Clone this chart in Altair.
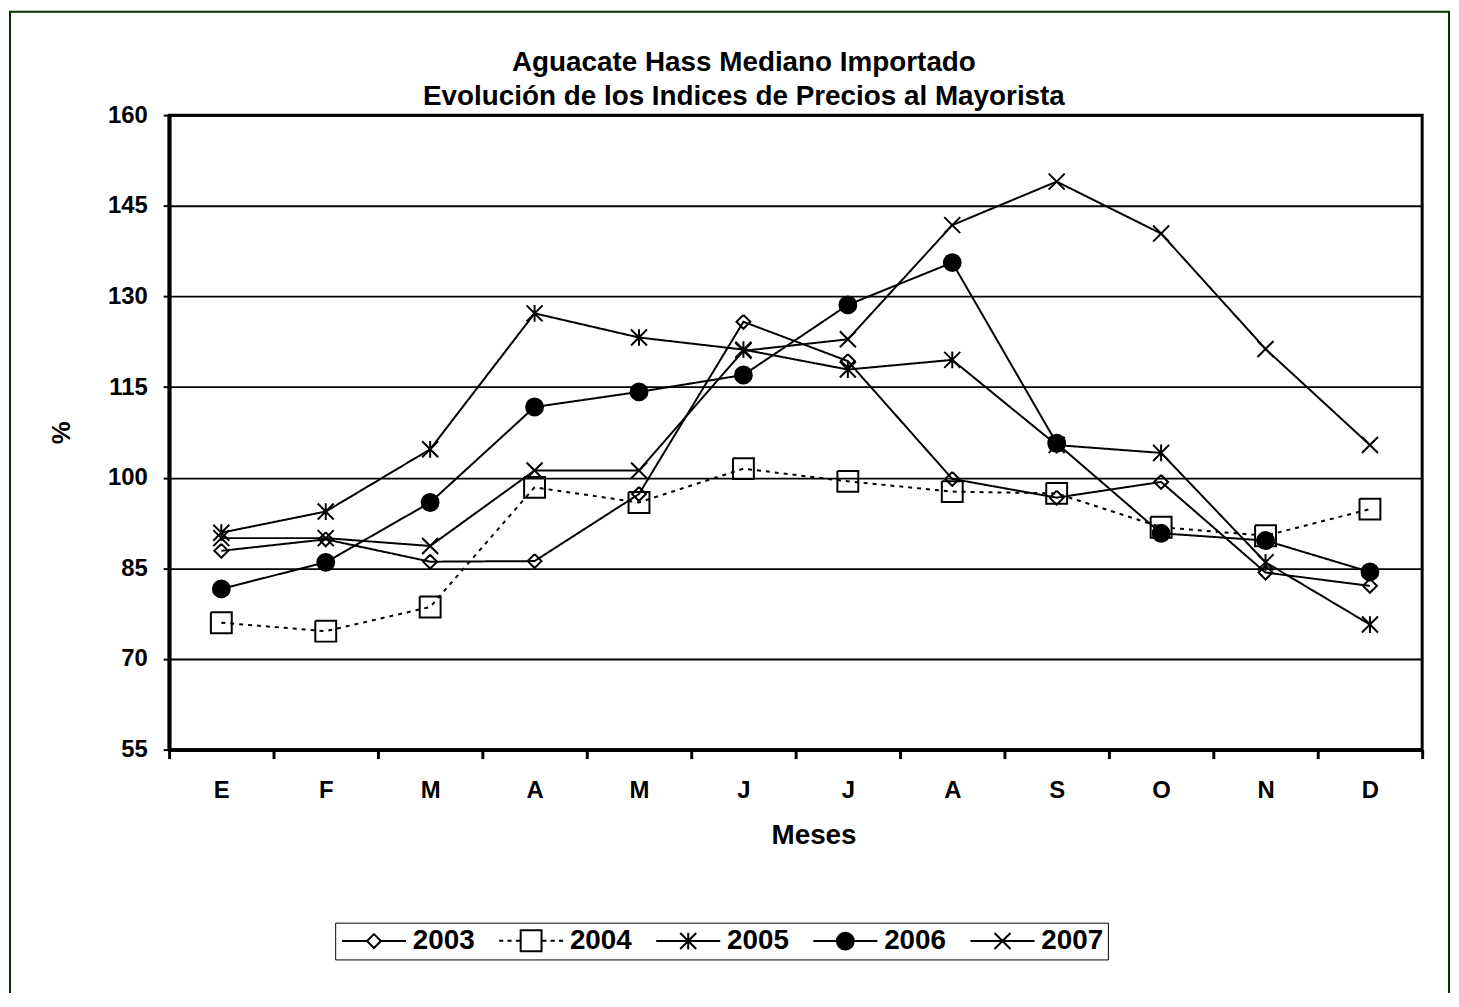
import json
import altair as alt
import pandas as pd

# ---------------- data ----------------
meses = ["E", "F", "M", "A", "M", "J", "J", "A", "S", "O", "N", "D"]
anios = ["2003", "2004", "2005", "2006", "2007"]
v2003 = [87.9, 89.8, 86.1, 86.2, 97.3, 125.8, 119.3, 99.8, 96.7, 99.3, 84.3, 82.1]
v2004 = [76.0, 74.6, 78.6, 98.4, 95.9, 101.5, 99.4, 97.7, 97.4, 91.8, 90.4, 94.8]
v2005 = [90.9, 94.4, 104.7, 127.2, 123.2, 121.2, 117.9, 119.5, 105.4, 104.1, 86.0, 75.7]
v2006 = [81.6, 86.0, 95.9, 111.7, 114.2, 117.0, 128.6, 135.6, 105.7, 90.8, 89.6, 84.4]
v2007 = [90.0, 90.0, 88.7, 101.2, 101.2, 121.0, 122.9, 141.8, 149.0, 140.4, 121.3, 105.4]
y_ticks = [55, 70, 85, 100, 115, 130, 145, 160]
titulo = ["Aguacate Hass Mediano Importado",
          "Evolución de los Indices de Precios al Mayorista"]
x_title = "Meses"
y_title = "%"

series = {"2003": v2003, "2004": v2004, "2005": v2005, "2006": v2006, "2007": v2007}
rows = []
for a in anios:
    for i, v in enumerate(series[a]):
        rows.append({"idx": i, "anio": a, "valor": v})
df = pd.DataFrame(rows)

# ---------------- styles ----------------
F = "Liberation Sans"
W, H = 1260, 638
SYM = 196  # symbol size -> 1 path unit = 7 px

# plot markers (open shapes retraced so that a black fill has no area)
P_DIAMOND = "M0,-1L1,0L0,1L-1,0L0,-1L-1,0L0,1L1,0Z"
P_SQUARE = "M-1.5,-1.5L1.5,-1.5L1.5,1.5L-1.5,1.5L-1.5,-1.5L-1.5,1.5L1.5,1.5L1.5,-1.5Z"
P_AST = "M-1.15,-1.15L1.15,1.15M-1.15,1.15L1.15,-1.15M0,-1.2L0,1.2"
P_CIRC = "M1.21,0A1.21,1.21,0,1,1,-1.21,0A1.21,1.21,0,1,1,1.21,0Z"
P_X = "M-1.15,-1.15L1.15,1.15M-1.15,1.15L1.15,-1.15"
marker_shapes = [P_DIAMOND, P_SQUARE, P_AST, P_CIRC, P_X]
dashes = [[1, 0], [4, 5], [1, 0], [1, 0], [1, 0]]

# legend symbols: line sample + marker, stroke only
leg_2003 = "M-4.6,0H-1M1,0H4.6M0,-1L1,0L0,1L-1,0Z"
leg_2004 = ("M-4.6,0H-4.0M-3.4,0H-2.8M-2.2,0H-1.6"
            "M1.6,0H2.2M2.8,0H3.4M4.0,0H4.6"
            "M-1.5,-1.5L1.5,-1.5L1.5,1.5L-1.5,1.5Z")
leg_2005 = "M-4.6,0H4.6M-1.15,-1.15L1.15,1.15M-1.15,1.15L1.15,-1.15M0,-1.2L0,1.2"
leg_2006 = ("M-4.6,0H4.6"
            "M1.21,0A1.21,1.21,0,1,1,-1.21,0A1.21,1.21,0,1,1,1.21,0"
            "M1.0,0A1.0,1.0,0,1,1,-1.0,0A1.0,1.0,0,1,1,1.0,0"
            "M0.8,0A0.8,0.8,0,1,1,-0.8,0A0.8,0.8,0,1,1,0.8,0"
            "M0.6,0A0.6,0.6,0,1,1,-0.6,0A0.6,0.6,0,1,1,0.6,0"
            "M0.4,0A0.4,0.4,0,1,1,-0.4,0A0.4,0.4,0,1,1,0.4,0"
            "M0.2,0A0.2,0.2,0,1,1,-0.2,0A0.2,0.2,0,1,1,0.2,0")
leg_2007 = "M-4.6,0H4.6M-1.15,-1.15L1.15,1.15M-1.15,1.15L1.15,-1.15"
legend_shapes = [leg_2003, leg_2004, leg_2005, leg_2006, leg_2007]

month_expr = json.dumps(meses) + "[datum.value]"

x_enc = alt.X(
    "idx:O",
    bandPosition=0.5,
    scale=alt.Scale(type="band", paddingInner=0, paddingOuter=0),
    axis=alt.Axis(
        title=x_title, labelExpr=month_expr, labelAngle=0, tickBand="extent",
        tickSize=9, tickWidth=3, domainWidth=4, grid=False,
        labelFontSize=24, labelPadding=20, titleFontSize=28, titlePadding=19,
        titleX=648,
    ),
)
y_enc = alt.Y(
    "valor:Q",
    scale=alt.Scale(domain=[y_ticks[0], y_ticks[-1]], nice=False, zero=False),
    axis=alt.Axis(
        title=y_title, values=y_ticks, tickSize=6, tickWidth=2, domainWidth=4,
        grid=True, gridColor="black", gridWidth=2, gridOpacity=1,
        labelFontSize=24, labelPadding=16, titleFontSize=26, titlePadding=33,
    ),
)

border = alt.Chart(pd.DataFrame({"k": [0]})).mark_rect(
    fill="transparent", stroke="#003300", strokeWidth=2
).encode(
    x=alt.value(-160), x2=alt.value(1287), y=alt.value(-104), y2=alt.value(1000)
)

lines = alt.Chart(df).mark_line(color="black", strokeWidth=2).encode(
    x=x_enc, y=y_enc,
    strokeDash=alt.StrokeDash("anio:N", scale=alt.Scale(domain=anios, range=dashes), legend=None),
)

points = alt.Chart(df).mark_point(
    filled=True, fill="black", stroke="black", strokeWidth=2, opacity=1, size=SYM
).encode(
    x=x_enc, y=y_enc,
    shape=alt.Shape("anio:N", scale=alt.Scale(domain=anios, range=marker_shapes), legend=None),
)

legend_layer = alt.Chart(df).mark_point(
    filled=False, color="black", strokeWidth=2, opacity=1, clip=True, size=SYM
).encode(
    x=alt.value(-3000), y=alt.value(-3000),
    shape=alt.Shape(
        "anio:N",
        scale=alt.Scale(domain=anios, range=legend_shapes),
        legend=alt.Legend(
            title=None, orient="none", legendX=167, legendY=812,
            direction="horizontal", strokeColor="black", padding=4,
            labelFontSize=28, labelFont=F, labelFontWeight="bold", labelColor="black",
            symbolOffset=21, labelOffset=25, columnPadding=19,
            symbolStrokeWidth=2, symbolSize=SYM, symbolOpacity=1,
        ),
    ),
)

chart = alt.layer(border, lines, points, legend_layer).resolve_scale(
    shape="independent"
).properties(
    width=W, height=H,
    padding={"left": 162, "top": 105, "right": 29, "bottom": 242},
    autosize=alt.AutoSizeParams(type="none"),
    background="white",
    title=alt.TitleParams(
        text=titulo, fontSize=28, font=F, fontWeight="bold", anchor="middle",
        frame="group", dx=-52, dy=107, offset=6, lineHeight=34, color="black",
    ),
).configure_view(
    stroke="black", strokeWidth=3
).configure_axis(
    labelFont=F, titleFont=F, labelFontWeight="bold", titleFontWeight="bold",
    labelColor="black", titleColor="black", domainColor="black", tickColor="black",
)

chart.save("out.html", embed_options={"renderer": "svg", "actions": False})
